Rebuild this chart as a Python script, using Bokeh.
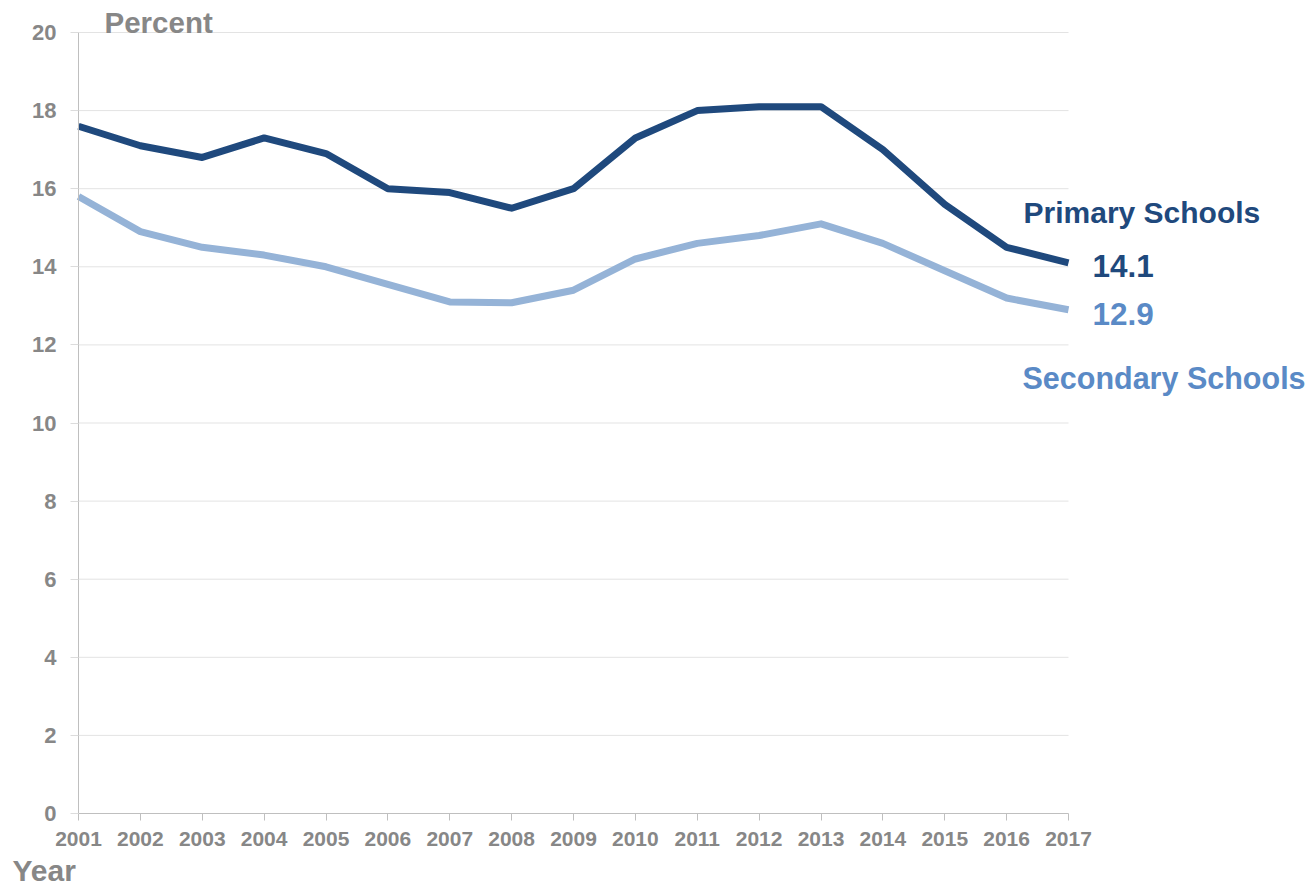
from bokeh.plotting import figure
from bokeh.models import Label, FixedTicker, Range1d
from bokeh.embed import file_html
from bokeh.resources import INLINE

years = list(range(2001, 2018))
primary = [17.6, 17.1, 16.8, 17.3, 16.9, 16.0, 15.9, 15.5, 16.0, 17.3, 18.0, 18.1, 18.1, 17.0, 15.6, 14.5, 14.1]
secondary = [15.8, 14.9, 14.5, 14.3, 14.0, 13.55, 13.1, 13.08, 13.4, 14.2, 14.6, 14.8, 15.1, 14.6, 13.9, 13.2, 12.9]
y_ticks = [0, 2, 4, 6, 8, 10, 12, 14, 16, 18, 20]

FONT = "Liberation Sans"
GREY = "#878787"
DARK = "#1f497d"
LIGHT_LINE = "#95b3d7"
LIGHT_TEXT = "#5a8ac6"

# layout (pixels): canvas size and where the axes sit inside it
W, H = 1312, 890
AX_LEFT, AX_RIGHT, AX_TOP, AX_BOTTOM = 78, 1068, 32, 813
x0, x1 = years[0], years[-1]
y0, y1 = y_ticks[0], y_ticks[-1]
px_x = (AX_RIGHT - AX_LEFT) / (x1 - x0)
px_y = (AX_BOTTOM - AX_TOP) / (y1 - y0)

p = figure(width=W, height=H, output_backend="svg", toolbar_location=None,
           x_range=Range1d(x0 - AX_LEFT / px_x, x1 + (W - AX_RIGHT) / px_x),
           y_range=Range1d(y0 - (H - AX_BOTTOM) / px_y, y1 + AX_TOP / px_y),
           min_border_left=0, min_border_right=0, min_border_top=0, min_border_bottom=0)
p.outline_line_color = None
p.background_fill_color = "white"
p.xgrid.grid_line_color = None
p.ygrid.grid_line_color = None

# horizontal gridlines spanning only the axis extent
grid_y = y_ticks[1:]
p.segment(x0=[x0] * len(grid_y), y0=grid_y, x1=[x1] * len(grid_y), y1=grid_y,
          line_color="#e3e3e3", line_width=1)

p.line(years, primary, line_color=DARK, line_width=7, line_join="round")
p.line(years, secondary, line_color=LIGHT_LINE, line_width=7, line_join="round")

p.xaxis.fixed_location = y0
p.yaxis.fixed_location = x0
p.xaxis.bounds = (x0, x1)
p.yaxis.bounds = (y0, y1)
p.xaxis.ticker = FixedTicker(ticks=years)
p.yaxis.ticker = FixedTicker(ticks=y_ticks)
for ax in (p.xaxis, p.yaxis):
    ax.axis_line_color = "#bfbfbf"
    ax.minor_tick_line_color = None
    ax.major_tick_in = 0
    ax.major_label_text_font = FONT
    ax.major_label_text_font_style = "bold"
    ax.major_label_text_color = GREY
p.xaxis.major_label_text_font_size = "21px"
p.yaxis.major_label_text_font_size = "22px"
p.xaxis.major_tick_out = 7
p.xaxis.major_tick_line_color = "#bfbfbf"
p.yaxis.major_tick_out = 8
p.yaxis.major_tick_line_color = "#dcdcdc"
p.xaxis.major_label_standoff = 11
p.yaxis.major_label_standoff = 14

p.add_layout(Label(x=x0, y=y1, x_offset=26, y_offset=10, text="Percent", text_font=FONT,
                   text_font_style="bold", text_font_size="29.5px", text_color=GREY,
                   text_baseline="middle"))
p.add_layout(Label(x=x0, y=y0, x_offset=-66, y_offset=-57, text="Year", text_font=FONT,
                   text_font_style="bold", text_font_size="30px", text_color=GREY,
                   text_baseline="middle"))

p.add_layout(Label(x=years[-1], y=primary[-1], x_offset=-45, y_offset=50, text="Primary Schools",
                   text_font=FONT, text_font_style="bold", text_font_size="30px", text_color=DARK,
                   text_baseline="middle"))
p.add_layout(Label(x=years[-1], y=primary[-1], x_offset=24, y_offset=-3, text=f"{primary[-1]:.1f}",
                   text_font=FONT, text_font_style="bold", text_font_size="31.5px", text_color=DARK,
                   text_baseline="middle"))
p.add_layout(Label(x=years[-1], y=secondary[-1], x_offset=24, y_offset=-4, text=f"{secondary[-1]:.1f}",
                   text_font=FONT, text_font_style="bold", text_font_size="31.5px", text_color=LIGHT_TEXT,
                   text_baseline="middle"))
p.add_layout(Label(x=years[-1], y=secondary[-1], x_offset=-46, y_offset=-68, text="Secondary Schools",
                   text_font=FONT, text_font_style="bold", text_font_size="30.5px", text_color=LIGHT_TEXT,
                   text_baseline="middle"))

open("out.html", "w").write(file_html(p, INLINE))
